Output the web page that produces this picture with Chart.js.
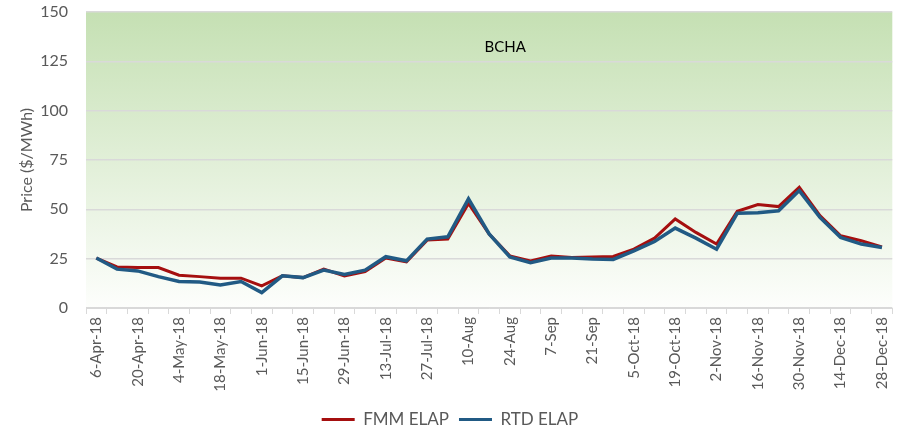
<!DOCTYPE html>
<html>
<head>
<meta charset="utf-8">
<script src="https://cdn.jsdelivr.net/npm/chart.js@4.4.1/dist/chart.umd.min.js"></script>
<style>
  html, body { margin: 0; padding: 0; background: #fff; }
  #wrap { width: 903px; height: 429px; }
</style>
</head>
<body>
<div id="wrap"><canvas id="bchaChart" width="903" height="429"></canvas></div>
<script>
/* Weekly BCHA prices, FMM vs RTD */
const weeks = [
  '6-Apr-18', '13-Apr-18', '20-Apr-18', '27-Apr-18', '4-May-18', '11-May-18', '18-May-18', '25-May-18',
  '1-Jun-18', '8-Jun-18', '15-Jun-18', '22-Jun-18', '29-Jun-18', '6-Jul-18', '13-Jul-18', '20-Jul-18',
  '27-Jul-18', '3-Aug-18', '10-Aug', '17-Aug', '24-Aug', '31-Aug', '7-Sep', '14-Sep', '21-Sep', '28-Sep',
  '5-Oct-18', '12-Oct-18', '19-Oct-18', '26-Oct-18', '2-Nov-18', '9-Nov-18', '16-Nov-18', '23-Nov-18',
  '30-Nov-18', '7-Dec-18', '14-Dec-18', '21-Dec-18', '28-Dec-18'
];
const fmmElap = [
  25.3, 20.8, 20.5, 20.5, 16.6, 15.9, 15.1, 15.1, 11.2, 16.3, 15.4, 19.7, 16.2,
  18.5, 25.3, 23.4, 34.4, 34.9, 53.0, 37.5, 26.4, 23.9, 26.4, 25.6, 25.9, 26.1,
  29.8, 35.4, 45.1, 38.3, 32.4, 49.0, 52.4, 51.4, 61.2, 46.8, 36.6, 34.1, 31.0
];
const rtdElap = [
  25.3, 19.7, 18.8, 15.9, 13.4, 13.2, 11.7, 13.4, 7.8, 16.3, 15.4, 19.2, 17.0,
  19.2, 26.0, 23.9, 34.9, 36.1, 55.3, 37.5, 25.9, 23.0, 25.3, 25.3, 24.8, 24.6,
  29.0, 33.7, 40.5, 35.4, 29.8, 48.0, 48.3, 49.3, 59.5, 45.9, 35.8, 32.4, 30.7
];
const priceTicks = [0, 25, 50, 75, 100, 125, 150];
const chartTitle = 'BCHA';

const textGrey = '#595959';
const fontFamily = "Lato, 'Open Sans', sans-serif";

// green-to-white fill behind the plot, plus the in-plot title
const plotBackdrop = {
  id: 'plotBackdrop',
  beforeDraw(chart) {
    const { ctx, chartArea: a } = chart;
    const g = ctx.createLinearGradient(0, a.top, 0, a.bottom);
    g.addColorStop(0, '#c5e0b3');
    g.addColorStop(1, '#fdfefc');
    ctx.save();
    ctx.fillStyle = g;
    ctx.fillRect(a.left, a.top, a.right - a.left, a.bottom - a.top);
    ctx.restore();
  },
  afterDatasetsDraw(chart) {
    const { ctx, chartArea: a } = chart;
    ctx.save();
    ctx.font = '15px ' + fontFamily;
    ctx.fillStyle = '#000';
    ctx.textAlign = 'center';
    ctx.textBaseline = 'middle';
    ctx.fillText(chartTitle, a.left + (a.right - a.left) * 0.52, a.top + 35);
    ctx.restore();
  }
};

new Chart(document.getElementById('bchaChart'), {
  type: 'line',
  data: {
    labels: weeks,
    datasets: [
      {
        label: 'FMM ELAP',
        data: fmmElap,
        borderColor: '#a50f0f',
        backgroundColor: '#a50f0f',
        borderWidth: 3,
        pointRadius: 0,
        tension: 0,
        order: 1
      },
      {
        label: 'RTD ELAP',
        data: rtdElap,
        borderColor: '#215a84',
        backgroundColor: '#215a84',
        borderWidth: 3.5,
        pointRadius: 0,
        tension: 0,
        order: 0
      }
    ]
  },
  options: {
    responsive: false,
    animation: false,
    layout: { padding: { top: 12, right: 3, left: 0, bottom: -9 } },
    plugins: {
      legend: {
        position: 'bottom',
        labels: {
          color: textGrey,
          font: { family: fontFamily, size: 17 },
          boxWidth: 33,
          boxHeight: 3,
          padding: 10,
          sort: (a, b) => a.datasetIndex - b.datasetIndex,
          generateLabels: (chart) =>
            Chart.defaults.plugins.legend.labels.generateLabels(chart)
              .map(l => ({ ...l, lineWidth: 0, fillStyle: l.strokeStyle }))
        }
      },
      tooltip: { enabled: false }
    },
    scales: {
      x: {
        offset: true,
        afterFit(scale) { scale.height = 93; },
        border: { display: true, color: '#d9d9d9', width: 1 },
        grid: {
          display: true,
          offset: true,
          drawOnChartArea: false,
          drawTicks: true,
          tickLength: 6,
          color: '#d9d9d9'
        },
        ticks: {
          autoSkip: false,
          minRotation: 90,
          maxRotation: 90,
          padding: 3,
          color: textGrey,
          font: { family: fontFamily, size: 15 },
          callback(value, index) { return index % 2 === 0 ? weeks[index] : ''; }
        }
      },
      y: {
        min: 0,
        max: 150,
        afterFit(scale) {
          scale.width = 86;
          scale.paddingTop = 0;
          scale.paddingBottom = 0;
        },
        afterBuildTicks(scale) { scale.ticks = priceTicks.map(v => ({ value: v })); },
        border: { display: false },
        grid: { color: '#d9d9d9', lineWidth: 1.5, drawTicks: false },
        ticks: {
          padding: 18,
          color: textGrey,
          font: { family: fontFamily, size: 16 }
        },
        title: {
          display: true,
          text: 'Price ($/MWh)',
          color: textGrey,
          font: { family: fontFamily, size: 16 },
          padding: { top: 17, bottom: 4 }
        }
      }
    }
  },
  plugins: [plotBackdrop]
});
</script>
</body>
</html>
